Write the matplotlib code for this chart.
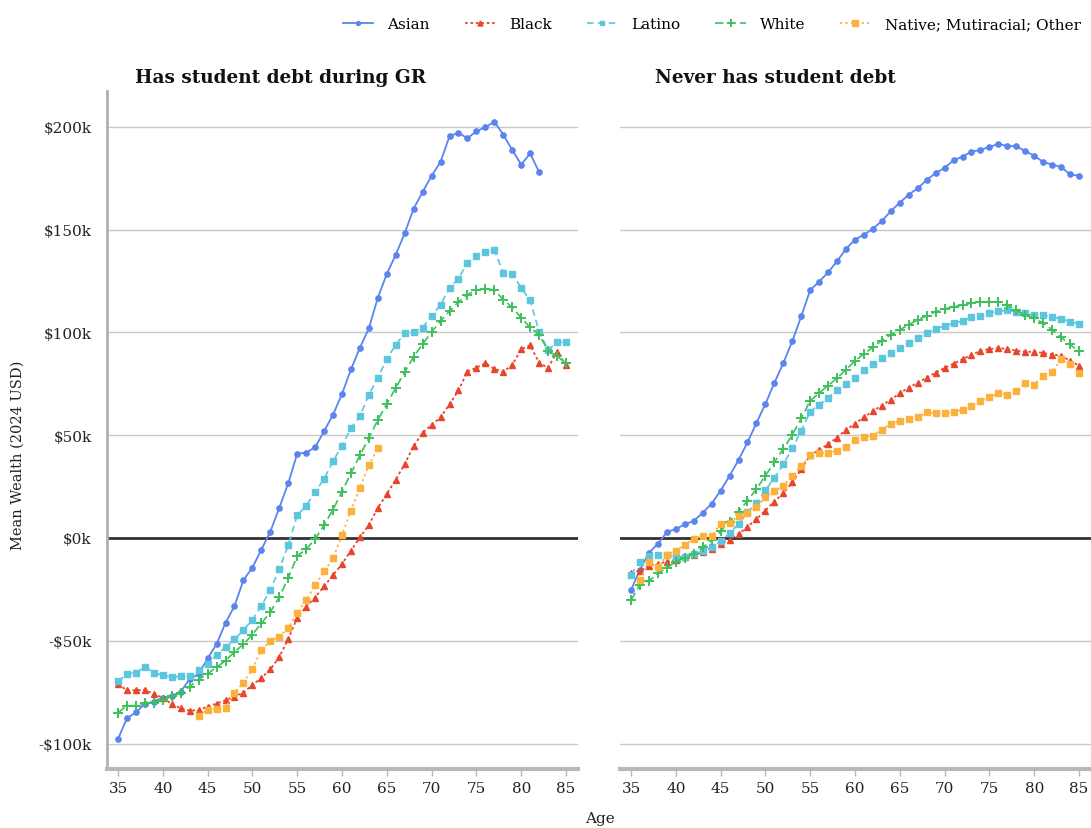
import matplotlib
matplotlib.use("Agg")
import matplotlib.pyplot as plt
from matplotlib.ticker import FuncFormatter

plt.rcParams["font.family"] = ["DejaVu Serif"]

ages = list(range(35, 86))
groups = ["Asian", "Black", "Latino", "White", "Native; Mutiracial; Other"]
panel_titles = ["Has student debt during GR", "Never has student debt"]

# Mean wealth in thousands of 2024 USD, by age.
# Panel 1: has student debt during the Great Recession
debt_asian = [-97.8, -87.7, -84.8, -80.7, -79.6, -77.7, -77.0, -74.8, -68.6, -66.3,
              -58.5, -51.7, -41.3, -33.1, -20.5, -14.4, -5.7, 3.1, 14.6, 26.6,
              41.0, 41.5, 44.1, 51.9, 60.0, 70.0, 82.0, 92.5, 102.0, 116.9,
              128.4, 137.8, 148.2, 160.2, 168.3, 176.2, 182.9, 195.4, 197.1, 194.4,
              197.8, 199.8, 202.5, 196.2, 188.7, 181.6, 187.1, 177.9]  # ages 35-82
debt_black = [-71.2, -74.1, -74.1, -73.8, -76.0, -77.7, -80.9, -82.8, -84.0, -83.8,
              -82.0, -80.6, -78.9, -77.2, -75.2, -71.5, -68.1, -64.0, -57.9, -49.1,
              -38.8, -33.4, -29.0, -23.5, -18.1, -12.6, -6.2, 0.3, 6.3, 14.6,
              21.4, 28.4, 36.0, 44.7, 51.2, 55.0, 58.7, 65.0, 71.8, 80.9,
              82.8, 85.0, 82.2, 80.9, 84.1, 91.8, 93.7, 85.2, 82.8, 90.6, 84.1]
debt_latino = [-69.8, -66.0, -65.7, -62.7, -65.5, -66.8, -67.8, -67.3, -67.0, -64.4,
               -61.4, -56.9, -53.2, -49.3, -44.9, -39.7, -33.1, -25.4, -15.2, -3.6,
               11.0, 15.7, 22.4, 28.7, 37.3, 44.9, 53.4, 59.2, 69.7, 77.8,
               87.1, 93.9, 99.7, 100.3, 102.3, 108.0, 113.5, 121.6, 126.1, 133.8,
               137.0, 139.0, 140.1, 129.0, 128.4, 121.6, 115.6, 100.4, 91.4, 95.2, 95.2]
debt_white = [-85.0, -81.6, -81.6, -80.4, -80.3, -78.8, -77.0, -75.5, -72.3, -68.9,
              -66.1, -62.9, -59.7, -55.4, -51.7, -47.0, -41.5, -36.1, -28.8, -19.5,
              -8.8, -5.5, -0.5, 6.3, 13.8, 22.5, 31.5, 40.2, 48.6, 57.4,
              65.2, 73.0, 80.7, 88.2, 94.3, 100.2, 105.5, 110.3, 114.9, 118.3,
              120.6, 121.3, 120.6, 115.9, 112.2, 107.0, 102.4, 98.9, 91.1, 88.4, 85.0]
debt_other = [-86.4, -83.5, -83.2, -82.7, -75.2, -70.4, -63.7, -54.5, -50.1, -48.0,
              -43.8, -36.5, -30.2, -23.0, -16.2, -10.0, 1.5, 13.3, 24.3, 35.5, 43.6]  # ages 44-64

# Panel 2: never has student debt
never_asian = [-25.3, -15.5, -7.2, -2.9, 2.8, 4.4, 6.6, 8.3, 12.2, 16.7,
               23.0, 30.2, 37.9, 46.5, 55.9, 65.2, 75.4, 85.1, 95.7, 107.8,
               120.6, 124.7, 129.2, 134.6, 140.6, 145.1, 147.5, 150.4, 154.2, 159.0,
               163.1, 167.0, 170.1, 174.1, 177.5, 180.0, 183.7, 185.5, 187.9, 188.7,
               190.2, 191.6, 190.7, 190.5, 188.2, 185.9, 182.9, 181.6, 180.4, 176.9, 176.2]
never_black = [-17.0, -15.9, -13.5, -12.6, -11.5, -10.6, -9.3, -8.2, -7.0, -5.2,
               -2.9, -1.0, 1.9, 5.4, 9.2, 13.3, 17.7, 21.7, 27.1, 33.4,
               40.4, 42.7, 45.7, 48.8, 52.7, 55.6, 58.7, 61.8, 64.4, 67.3,
               70.4, 73.1, 75.5, 78.0, 80.4, 82.7, 84.8, 86.9, 89.0, 91.0,
               91.9, 92.3, 91.9, 91.1, 90.6, 90.5, 90.0, 89.2, 88.7, 86.2, 83.8]
never_latino = [-17.8, -11.5, -8.7, -8.4, -8.4, -9.1, -9.1, -7.8, -6.5, -4.5,
                -1.7, 2.3, 6.7, 12.5, 17.0, 23.2, 29.3, 35.8, 43.6, 52.2,
                61.4, 64.7, 68.1, 72.0, 74.8, 77.8, 81.7, 84.5, 87.4, 89.8,
                92.5, 94.9, 97.2, 99.6, 101.7, 103.1, 104.4, 105.5, 107.5, 107.8,
                109.4, 110.3, 110.7, 110.1, 109.3, 108.5, 108.5, 107.3, 106.7, 105.2, 104.1]
never_white = [-30.3, -22.7, -20.9, -17.3, -14.4, -11.6, -9.6, -7.6, -4.5, -1.2,
               3.3, 7.9, 12.8, 18.1, 23.8, 30.3, 36.8, 43.3, 50.1, 58.2,
               66.8, 70.5, 74.1, 77.8, 81.9, 86.1, 89.5, 92.8, 96.0, 98.8,
               101.3, 103.7, 106.2, 108.0, 110.1, 111.4, 112.4, 113.3, 114.2, 114.8,
               114.9, 114.8, 113.3, 110.7, 108.5, 106.9, 104.6, 101.3, 97.5, 94.1, 90.8]
never_other = [-20.4, -11.6, -14.0, -8.4, -6.2, -3.4, -0.4, 0.7, 0.9,
               7.0, 7.2, 10.8, 12.0, 15.1, 19.8, 22.7, 25.4, 30.3, 34.9,
               40.4, 41.2, 41.3, 42.5, 44.3, 47.7, 49.0, 49.8, 52.7, 55.6,
               56.9, 57.7, 58.7, 61.1, 60.8, 60.9, 61.1, 62.4, 64.1, 66.8,
               68.4, 70.5, 69.6, 71.5, 75.2, 74.6, 78.9, 80.6, 87.1, 84.6, 80.3]  # ages 36-85

panels = [
    [(ages[:len(debt_asian)], debt_asian), (ages, debt_black), (ages, debt_latino),
     (ages, debt_white), (ages[9:9 + len(debt_other)], debt_other)],
    [(ages, never_asian), (ages, never_black), (ages, never_latino),
     (ages, never_white), (ages[1:], never_other)],
]

styles = [
    dict(color="#5a84ee", ls="-", lw=1.3, marker="o", ms=3.8),
    dict(color="#e8452c", ls=(0, (1.5, 1.5)), lw=1.3, marker="^", ms=4.8),
    dict(color="#5cc6df", ls=(0, (4, 2.5)), lw=1.2, marker="s", ms=4.4),
    dict(color="#3ec05c", ls=(0, (5, 2.5)), lw=1.2, marker="+", ms=7.0, mew=1.4),
    dict(color="#fbb13c", ls=(0, (1.2, 1.8)), lw=1.3, marker="s", ms=5.0),
]

W, H = 1091, 829
fig = plt.figure(figsize=(W / 100, H / 100), dpi=100)
ax_l = fig.add_axes([107 / W, 59 / H, 471 / W, 678 / H])
ax_r = fig.add_axes([620 / W, 59 / H, 471 / W, 678 / H], sharey=ax_l)

fmt = FuncFormatter(lambda v, _: ("-$%dk" % abs(v)) if v < 0 else ("$%dk" % v))

handles = []
for ax, series, title, tx in zip([ax_l, ax_r], panels, panel_titles, [135, 655]):
    ax.set_xlim(33.77, 86.34)
    ax.set_ylim(-112.4, 217.4)
    ax.set_yticks([-100, -50, 0, 50, 100, 150, 200])
    ax.set_xticks(range(35, 90, 5))
    ax.yaxis.set_major_formatter(fmt)
    ax.grid(axis="y", color="#c9c9c9", lw=1.0)
    ax.set_axisbelow(True)
    ax.axhline(0, color="#333333", lw=2.0, zorder=1.5)
    for s in ["top", "right"]:
        ax.spines[s].set_visible(False)
    ax.spines["bottom"].set_color("#b8b8b8")
    ax.spines["bottom"].set_linewidth(3.0)
    ax.spines["left"].set_color("#b0b0b0")
    ax.spines["left"].set_linewidth(2.0)
    ax.tick_params(axis="x", length=5, width=1, color="#b8b8b8", labelsize=11,
                   pad=4, labelcolor="#222222")
    ax.tick_params(axis="y", length=0, labelsize=11, pad=11, labelcolor="#222222")
    hs = []
    for (x, y), name, st in zip(series, groups, styles):
        (h,) = ax.plot(x, y, label=name, zorder=3, **st)
        hs.append(h)
    handles = hs
    fig.text(tx / W, 1 - 78 / H, title, ha="left", va="center",
             fontsize=13.3, fontweight="bold", color="#111111")

ax_r.spines["left"].set_visible(False)
ax_r.tick_params(axis="y", labelleft=False)

fig.text(18 / W, 1 - 455 / H, "Mean Wealth (2024 USD)", rotation=90,
         ha="center", va="center", fontsize=10.5, color="#222222")
fig.text(600 / W, 1 - 819 / H, "Age", ha="center", va="center",
         fontsize=11, color="#222222")

fig.legend(handles, groups, loc="upper right", bbox_to_anchor=(1.003, 0.995),
           ncol=5, frameon=False, fontsize=11, handlelength=2.0, markerscale=0.75,
           columnspacing=2.3, handletextpad=0.9)

fig.savefig("out.png", dpi=100)
